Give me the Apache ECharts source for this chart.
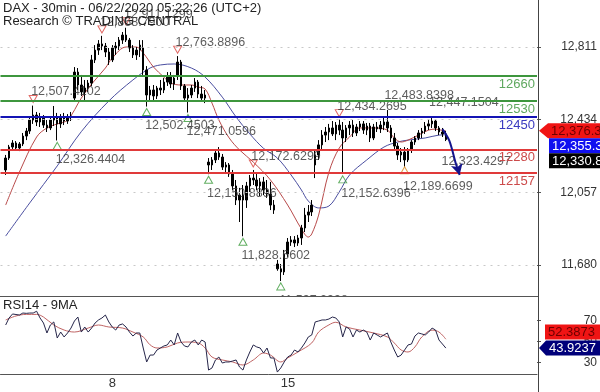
<!DOCTYPE html>
<html><head><meta charset="utf-8">
<script src="https://cdn.jsdelivr.net/npm/echarts@6/dist/echarts.min.js"></script>
<style>html,body{margin:0;padding:0;background:#fff}#c{width:600px;height:392px}</style>
</head><body><div id="c"></div>
<script>
// ---------- data ----------
const days = ['3','4','5','8','9','10','11','12','15','16','17','18','19'];
const barsPerDay = 10;
const weekStartDays = ['8','15'];

const opens = [
12173,12235,12292,12313,12287,12308,12349,12375,12432,12458,
12422,12443,12406,12391,12432,12443,12412,12448,12427,12448,
12546,12681,12614,12578,12598,12624,12744,12795,12827,12816,
12785,12744,12806,12816,12847,12873,12847,12806,12770,12795,
12806,12692,12562,12588,12557,12598,12588,12629,12661,12619,
12661,12733,12609,12546,12562,12598,12629,12567,12546,12214,
12199,12225,12261,12240,12188,12199,12152,12090,12017,12043,
12017,12090,12131,12121,12090,12111,12069,12048,11991,11685,
11660,11644,11737,11799,11810,11794,11820,11872,11939,11955,
12199,12251,12303,12354,12370,12391,12360,12406,12380,12339,
12391,12406,12365,12396,12412,12380,12401,12339,12396,12386,
12406,12422,12391,12339,12297,12251,12266,12225,12277,12318,
12339,12365,12375,12401,12412,12427,12391,12370,12360];
const highs = [
12251,12303,12328,12323,12318,12365,12391,12443,12507,12474,
12469,12458,12432,12448,12505,12469,12463,12469,12463,12474,
12707,12702,12666,12640,12640,12770,12821,12847,12869,12832,
12806,12821,12837,12863,12889,12911,12858,12821,12811,12847,
12847,12712,12609,12614,12609,12640,12650,12681,12681,12666,
12764,12744,12619,12598,12614,12650,12640,12609,12588,12235,
12240,12277,12292,12256,12214,12209,12173,12121,12080,12095,
12111,12147,12173,12152,12131,12137,12121,12111,12017,11706,
11685,11758,11820,11830,11830,11836,11888,11976,11991,12017,
12277,12328,12380,12396,12412,12427,12422,12434,12422,12406,
12427,12432,12412,12427,12427,12417,12417,12412,12422,12427,
12443,12484,12406,12365,12313,12287,12292,12287,12328,12349,
12380,12391,12422,12432,12447,12437,12401,12391,12375];
const lows = [
12147,12225,12277,12277,12271,12297,12328,12360,12412,12401,
12396,12391,12370,12380,12401,12326,12391,12406,12412,12427,
12536,12588,12557,12536,12578,12609,12728,12770,12795,12759,
12718,12733,12770,12795,12827,12837,12785,12754,12744,12759,
12666,12502,12536,12536,12541,12562,12572,12609,12598,12588,
12640,12588,12526,12471,12546,12578,12546,12526,12520,12151,
12173,12209,12225,12173,12152,12137,12069,11991,11903,11829,
11976,12059,12095,12069,12038,12043,12028,11965,11945,11650,
11597,11628,11722,11779,11773,11779,11784,11851,11903,11934,
12131,12225,12277,12318,12328,12349,12328,12354,12153,12318,
12354,12344,12349,12375,12360,12354,12318,12328,12370,12365,
12380,12370,12318,12277,12225,12214,12190,12214,12261,12303,
12328,12339,12360,12380,12391,12375,12354,12344,12323];
const closes = [
12235,12292,12313,12287,12308,12349,12375,12432,12458,12422,
12443,12406,12391,12432,12443,12412,12448,12427,12448,12453,
12681,12614,12578,12598,12624,12744,12795,12827,12816,12785,
12744,12806,12816,12847,12873,12847,12806,12770,12795,12821,
12692,12562,12588,12557,12598,12588,12629,12661,12619,12650,
12733,12609,12546,12562,12598,12629,12567,12546,12562,12199,
12225,12261,12240,12188,12199,12152,12090,12017,12043,12017,
12090,12131,12121,12090,12111,12069,12048,11991,11965,11660,
11644,11737,11799,11810,11794,11820,11872,11939,11955,11991,
12251,12303,12354,12370,12391,12360,12406,12380,12339,12391,
12406,12365,12396,12412,12380,12401,12339,12396,12386,12406,
12422,12391,12339,12297,12251,12266,12225,12277,12318,12339,
12365,12375,12401,12412,12427,12391,12370,12360,12330.8];

// moving averages: [barIndex, value]
const maFastPts = [[0,11991],[4,12162],[9,12344],[12,12391],[15,12412],[18,12432],[22,12546],[25,12619],[29,12702],[31,12754],[35,12811],[38,12811],[40,12780],[43,12707],[46,12655],[48,12624],[51,12614],[54,12614],[56,12603],[58,12593],[60,12520],[62,12432],[65,12339],[68,12277],[72,12214],[77,12121],[82,11991],[86,11867],[88,11825],[89,11841],[91,11939],[94,12162],[97,12287],[100,12344],[103,12391],[107,12391],[111,12380],[113,12339],[115,12318],[117,12328],[120,12354],[123,12380],[125,12385],[127,12378],[128,12376.3]];
const maSlowPts = [[0,11830],[7,12002],[15,12194],[22,12372],[30,12531],[37,12640],[42,12702],[45,12718],[49,12723],[54,12702],[58,12655],[63,12551],[67,12448],[71,12360],[75,12285],[79,12235],[83,12147],[86,12069],[88,12012],[91,11976],[94,11986],[97,12059],[100,12147],[105,12225],[110,12292],[114,12318],[117,12328],[122,12339],[126,12354],[128,12355.3]];

const rsi = [
65.9,72.6,76.4,75.9,75.4,77.3,77.0,77.3,77.3,79.0,
72.6,67.8,58.3,65.9,68.8,53.5,59.2,54.5,58.3,63.0,
69.7,73.5,59.2,64.0,59.2,63.0,67.8,70.7,72.6,75.4,
68.8,64.0,61.1,65.9,66.9,64.0,59.2,55.4,58.3,58.3,
44.0,30.7,37.3,37.3,42.1,44.0,45.9,46.9,51.6,46.9,
58.3,49.7,45.9,45.0,49.7,51.6,46.9,51.6,49.7,23.0,
25.0,32.6,35.4,29.7,30.7,30.7,31.6,32.6,25.9,23.0,
32.6,40.2,46.9,45.0,44.0,39.2,44.0,34.5,34.5,21.1,
25.0,30.7,35.4,37.3,42.1,40.2,44.0,48.8,54.5,56.4,
68.8,69.7,70.7,70.7,71.6,73.5,72.6,68.8,54.5,64.0,
62.1,54.5,61.1,59.2,61.1,59.2,51.6,58.3,56.4,54.5,
56.4,58.3,49.7,42.1,35.4,37.3,42.1,46.9,47.8,55.4,
58.3,57.4,56.4,59.2,63.0,61.1,51.6,47.8,43.9237];
const rsiMaPts = [[0,70.7],[3,74.5],[6,76.0],[9,76.0],[11,73.5],[14,65.9],[17,61.1],[20,59.2],[24,63.0],[27,65.9],[30,64.0],[34,63.0],[37,59.2],[40,54.5],[42,47.0],[44,44.0],[47,45.0],[50,48.8],[53,49.7],[56,48.8],[58,44.0],[60,35.4],[63,32.6],[66,30.7],[69,27.8],[72,32.6],[75,39.2],[77,37.3],[80,30.7],[82,34.5],[85,40.2],[89,48.8],[91,59.2],[94,66.0],[96,68.5],[99,64.0],[103,61.1],[107,58.3],[111,54.5],[113,48.8],[115,42.1],[117,40.2],[119,45.0],[121,54.5],[124,61.0],[126,59.2],[128,52.3873]];

const priceTicks = [11680, 12057, 12434, 12811];
const rsiTicks = [30, 50, 70];
const greenLevels = [12660, 12530];
const blueLevels = [12450];
const redLevels = [12280, 12157];

const swingHighs = [[8,12507.4102],[28,12868.79],[35,12911.1299],[50,12763.8896],[72,12172.6299],[97,12434.2695]];
const swingLows = [[15,12326.4404],[41,12502.4503],[53,12471.0596],[59,12150.8896],[69,11828.6602],[80,11597.2998],[98,12152.6396]];
const swingLowsAlt = [[116,12189.6699]];
const extremeLabels = [[111,12483.8398],[124,12447.1504]];
const projection = [[127,12385],[129,12325],[131,12200],[132,12147]];
const projectionTarget = [[127,12323.4297]];
const priceTags = [12376.3, 12355.3, 12330.8];
const rsiTags = [52.3873, 43.9237];

// ---------- chart ----------
const FONT = '"Liberation Sans", Arial, sans-serif';
const lead = 1, nCat = 156;
const cats = [''];
days.forEach(d => { for (let k = 0; k < barsPerDay; k++) cats.push(d + '|' + k); });
while (cats.length < nCat) cats.push('');
const isWeekStart = v => { const p = String(v).split('|'); return p.length === 2 && p[1] === '0' && weekStartDays.includes(p[0]); };
const padArr = arr => { const o = new Array(nCat).fill('-'); arr.forEach((v, i) => { o[i + lead] = (v == null ? '-' : v); }); return o; };
const pts = arr => arr.map(([i, v]) => [i + lead, v]);
const commas = s => s.replace(/\B(?=(\d{3})+(?!\d))/g, ',');
const fmt = (v, d) => { const s = v.toFixed(d).split('.'); return commas(s[0]) + (d ? '.' + s[1] : ''); };

const candles = opens.map((o, i) => [o, closes[i], lows[i], highs[i]]);

const annLabel = (dx, dy) => ({show: true, position: 'inside', align: 'left', verticalAlign: 'middle', offset: [dx, dy],
  formatter: p => fmt(p.value[1], 4), fontSize: 12.5, color: '#333', fontFamily: FONT, textBorderWidth: 0});

const chart = echarts.init(document.getElementById('c'));
const option = {
  animation: false,
  backgroundColor: '#fff',
  grid: [
    {left: 0.5, top: 0, width: 536.64, height: 296},
    {left: 0.5, top: 297, width: 536.64, height: 77}
  ],
  xAxis: [
    {gridIndex: 0, type: 'category', data: cats, boundaryGap: true, show: false},
    {gridIndex: 1, type: 'category', data: cats, boundaryGap: true, z: 12,
      axisLine: {lineStyle: {color: '#555'}},
      axisTick: {interval: (i, v) => isWeekStart(v), length: 5, lineStyle: {color: '#555'}},
      axisLabel: {interval: (i, v) => isWeekStart(v), formatter: v => String(v).split('|')[0], align: 'left', margin: 3,
        fontSize: 13, color: '#333', fontFamily: FONT}}
  ],
  yAxis: [
    {gridIndex: 0, type: 'value', position: 'right', min: 11519, max: 13055,
      axisLine: {show: false}, splitLine: {show: false},
      axisTick: {show: true, customValues: priceTicks, length: 4, lineStyle: {color: '#555'}},
      axisLabel: {customValues: priceTicks, formatter: v => fmt(v, 0), align: 'right', margin: 60, fontSize: 12, color: '#333', fontFamily: FONT}},
    {gridIndex: 1, type: 'value', position: 'right', min: 19.24, max: 92.57, z: 12,
      axisLine: {show: false}, splitLine: {show: false},
      axisTick: {show: true, customValues: rsiTicks, length: 4, lineStyle: {color: '#555'}},
      axisLabel: {customValues: rsiTicks, formatter: v => String(v), align: 'right', margin: 60, fontSize: 12, color: '#333', fontFamily: FONT}}
  ],
  series: [
    {type: 'line', xAxisIndex: 0, yAxisIndex: 0, data: [], z: 1, silent: true,
      markLine: {silent: true, symbol: ['none', 'none'], animation: false,
        lineStyle: {color: '#c8c8c8', width: 1, type: [2, 5]}, label: {show: false},
        data: priceTicks.map(v => ({yAxis: v}))}},
    {type: 'line', xAxisIndex: 0, yAxisIndex: 0, data: [], z: 1, silent: true,
      markLine: {silent: true, symbol: ['none', 'none'], animation: false,
        lineStyle: {width: 2, type: 'solid'},
        label: {show: true, position: 'insideEndBottom', distance: 2, formatter: p => String(p.value), fontSize: 13, fontFamily: FONT},
        data: [
          ...greenLevels.map(v => ({yAxis: v, lineStyle: {color: '#3d963d'}, label: {color: '#5fa85f'}})),
          ...blueLevels.map(v => ({yAxis: v, lineStyle: {color: '#1414b4'}, label: {color: '#3a3ac0'}})),
          ...redLevels.map(v => ({yAxis: v, lineStyle: {color: '#e03a3a'}, label: {color: '#cc4a4a'}}))
        ]}},
    {type: 'line', xAxisIndex: 0, yAxisIndex: 0, data: pts(maSlowPts), z: 2, smooth: 0.35, symbol: 'none',
      lineStyle: {color: '#4a4ea0', width: 1}},
    {type: 'line', xAxisIndex: 0, yAxisIndex: 0, data: pts(maFastPts), z: 2, smooth: 0.35, symbol: 'none',
      lineStyle: {color: '#b84a4a', width: 1}},
    {type: 'candlestick', xAxisIndex: 0, yAxisIndex: 0, data: padArr(candles), z: 3, barWidth: 2,
      itemStyle: {color: '#000', color0: '#000', borderColor: '#000', borderColor0: '#000', borderWidth: 1}},
    {type: 'scatter', xAxisIndex: 0, yAxisIndex: 0, z: 4, data: pts(swingHighs),
      symbol: 'path://M0,0L10,0L5,9Z', symbolSize: [8, 7], symbolOffset: [0, -6.5],
      itemStyle: {color: 'rgba(0,0,0,0)', borderColor: '#d9443f', borderWidth: 1}, label: annLabel(-2, -7)},
    {type: 'scatter', xAxisIndex: 0, yAxisIndex: 0, z: 4, data: pts(swingLows),
      symbol: 'path://M5,0L10,9L0,9Z', symbolSize: [8, 7], symbolOffset: [0, 5.5],
      itemStyle: {color: 'rgba(0,0,0,0)', borderColor: '#3a9a3a', borderWidth: 1}, label: annLabel(-1.5, 14)},
    {type: 'scatter', xAxisIndex: 0, yAxisIndex: 0, z: 4, data: pts(swingLowsAlt),
      symbol: 'path://M5,0L10,9L0,9Z', symbolSize: [8, 7], symbolOffset: [0, 3.5],
      itemStyle: {color: 'rgba(0,0,0,0)', borderColor: '#d98a1e', borderWidth: 1}, label: annLabel(-1.5, 16)},
    {type: 'scatter', xAxisIndex: 0, yAxisIndex: 0, z: 4, data: pts(extremeLabels),
      symbol: 'circle', symbolSize: 1, itemStyle: {color: 'rgba(0,0,0,0)'}, label: annLabel(-3, -15)},
    {type: 'scatter', xAxisIndex: 0, yAxisIndex: 0, z: 4, data: pts(projectionTarget),
      symbol: 'circle', symbolSize: 1, itemStyle: {color: 'rgba(0,0,0,0)'}, label: annLabel(-1, 21)},
    {type: 'line', xAxisIndex: 0, yAxisIndex: 0, z: 5, smooth: 0.3, symbol: 'circle', symbolSize: 0, showAllSymbol: true,
      data: projection.map(([i, v], k, a) => k === a.length - 1
        ? {value: [i + lead, v], symbol: 'arrow', symbolSize: [9, 11], symbolRotate: 195}
        : [i + lead, v]),
      lineStyle: {color: '#14148c', width: 2}, itemStyle: {color: '#14148c'}},
    {type: 'line', xAxisIndex: 1, yAxisIndex: 1, data: [], z: 10, silent: true,
      markLine: {silent: true, symbol: ['none', 'none'], animation: false,
        lineStyle: {color: '#c8c8c8', width: 1, type: [2, 5]}, label: {show: false},
        data: rsiTicks.map(v => ({yAxis: v}))}},
    {type: 'line', xAxisIndex: 1, yAxisIndex: 1, data: pts(rsiMaPts), z: 10, smooth: 0.35, symbol: 'none',
      lineStyle: {color: '#c06464', width: 1}},
    {type: 'line', xAxisIndex: 1, yAxisIndex: 1, data: padArr(rsi), z: 11, symbol: 'none', connectNulls: true,
      lineStyle: {color: '#26264a', width: 1}}
  ]
};
chart.setOption(option);

// ---------- overlays: frame, texts, last-value tags ----------
const py = v => chart.convertToPixel({yAxisIndex: 0}, v);
const ry = v => chart.convertToPixel({yAxisIndex: 1}, v);
const g = [];
g.push({type: 'rect', shape: {x: 0, y: 297, width: 538, height: 77}, style: {fill: '#fff'}, z: 6});
g.push({type: 'line', shape: {x1: 0, y1: 296.5, x2: 538, y2: 296.5}, style: {stroke: '#555', lineWidth: 1}, z: 20});
g.push({type: 'line', shape: {x1: 538.5, y1: 0, x2: 538.5, y2: 392}, style: {stroke: '#444', lineWidth: 1}, z: 20});
const txt = (x, y, text, size) => ({type: 'text', x, y, z: 20,
  style: {text, font: size + 'px ' + FONT, fill: '#222', verticalAlign: 'middle', align: 'left'}});
g.push(txt(3, 8.5, 'DAX - 30min - 06/22/2020 05:22:26 (UTC+2)', 13));
g.push(txt(3, 21.5, 'Research \u00a9 TRADING CENTRAL', 13));
g.push(txt(3, 305.5, 'RSI14 - 9MA', 13));

function tag(y, text, fill, color, arrow, xb) {
  const h = 15;
  if (arrow) g.push({type: 'polygon', z: 30, shape: {points: [[539, y], [xb, y - h / 2], [606, y - h / 2], [606, y + h / 2], [xb, y + h / 2]]}, style: {fill}});
  else g.push({type: 'rect', z: 30, shape: {x: xb, y: y - h / 2, width: 60, height: h}, style: {fill}});
  g.push({type: 'text', z: 31, x: xb + 3, y: y + 0.5, style: {text, font: '13px ' + FONT, fill: color, verticalAlign: 'middle', align: 'left'}});
}
let y0 = py(priceTags[0]);
let y1 = Math.max(py(priceTags[1]), y0 + 15);
let y2 = Math.max(py(priceTags[2]), y1 + 15);
tag(y0, fmt(priceTags[0], 1), '#f01414', '#6e0000', true, 548);
tag(y1, fmt(priceTags[1], 1), '#1010f0', '#fff', false, 549);
tag(y2, fmt(priceTags[2], 1), '#000', '#fff', false, 549);
const rb = ry(rsiTags[1]);
const ra = Math.min(ry(rsiTags[0]), rb - 16);
tag(ra, rsiTags[0].toFixed(4), '#f01414', '#6e0000', false, 545);
tag(rb, rsiTags[1].toFixed(4), '#00007a', '#fff', true, 546);
chart.setOption({graphic: g});
</script></body></html>
